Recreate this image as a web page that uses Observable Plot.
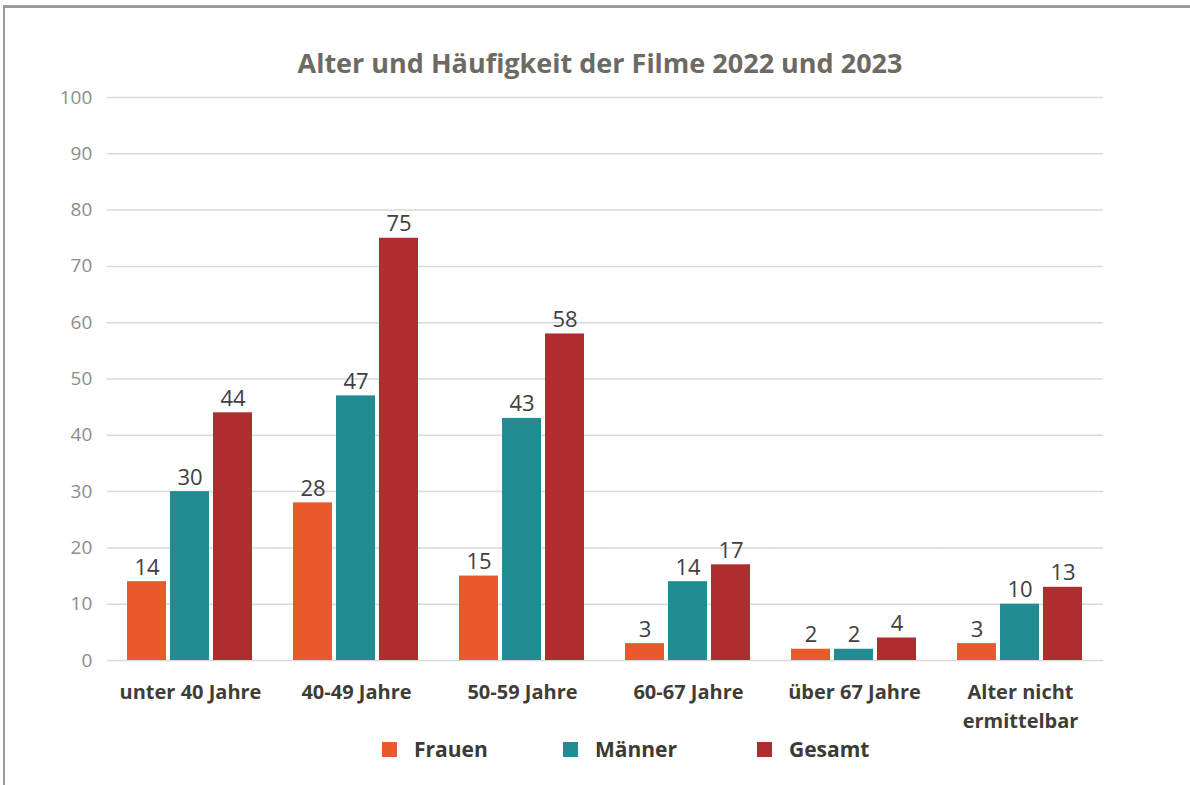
<!DOCTYPE html>
<html>
<head>
<meta charset="utf-8">
<script src="https://cdn.jsdelivr.net/npm/d3@7"></script>
<script src="https://cdn.jsdelivr.net/npm/@observablehq/plot@0.6"></script>
<style>
  html, body { margin: 0; padding: 0; background: #fff; }
  body { width: 1190px; height: 785px; position: relative; overflow: hidden; font-family: "Open Sans", sans-serif; }
  #frame { position: absolute; left: 3px; top: 5px; width: 1300px; height: 900px; border-top: 3px solid #9b9b96; border-left: 2px solid #9b9b96; }
  #title { position: absolute; left: 0; width: 1200px; top: 44px; text-align: center; font-size: 27px; font-weight: 700; color: #6c6a63; }
  #chart { position: absolute; left: 0; top: 80px; }
  #legend { position: absolute; top: 734px; left: 0; width: 1190px; height: 30px; }
  .item { position: absolute; top: 0; display: flex; align-items: center; height: 30px; font-size: 21px; font-weight: 700; color: #3b3a33; }
  .sw { width: 15px; height: 15px; margin-right: 17px; }
</style>
</head>
<body>
<div id="frame"></div>
<div id="title">Alter und Häufigkeit der Filme 2022 und 2023</div>
<div id="chart"></div>
<div id="legend"></div>
<script>
const categories = ["unter 40 Jahre", "40-49 Jahre", "50-59 Jahre", "60-67 Jahre", "über 67 Jahre", "Alter nicht ermittelbar"];
const categoryLabels = ["unter 40 Jahre", "40-49 Jahre", "50-59 Jahre", "60-67 Jahre", "über 67 Jahre", "Alter nicht\nermittelbar"];
const series = ["Frauen", "Männer", "Gesamt"];
const frauen = [14, 28, 15, 3, 2, 3];
const maenner = [30, 47, 43, 14, 2, 10];
const gesamt = [44, 75, 58, 17, 4, 13];
const yTicks = [0, 10, 20, 30, 40, 50, 60, 70, 80, 90, 100];
const colors = ["#E8592B", "#238C92", "#AE2E30"];

const values = [frauen, maenner, gesamt];
const data = [];
categories.forEach((c, i) => {
  series.forEach((s, j) => data.push({cat: c, series: s, value: values[j][i]}));
});
const labelOf = new Map(categories.map((c, i) => [c, categoryLabels[i]]));

const W = 1190, ML = 105, MR = 85;
const fxPadInner = 0.23, fxPadOuter = 0.115;
const step = (W - ML - MR) / (categories.length - fxPadInner + 2 * fxPadOuter);
const halfGap = step * fxPadInner / 2;

const chart = Plot.plot({
  width: W,
  height: 665,
  marginLeft: ML,
  marginRight: MR,
  marginTop: 17,
  marginBottom: 85,
  style: {fontFamily: "Open Sans, sans-serif", background: "transparent"},
  fx: {domain: categories, paddingInner: fxPadInner, paddingOuter: fxPadOuter, label: null},
  x: {domain: series, paddingInner: 0.09, paddingOuter: 0, axis: null},
  y: {domain: [0, 100], axis: null},
  color: {domain: series, range: colors},
  marks: [
    Plot.ruleY(yTicks, {y: d => d, stroke: "#d9d9d9", strokeWidth: 1.5, insetLeft: -halfGap, insetRight: -halfGap}),
    Plot.axisY({ticks: yTicks, tickSize: 0, tickPadding: 15 + halfGap, fontSize: 19, color: "#8c8c8c", label: null}),
    Plot.axisFx({anchor: "bottom", tickSize: 0, tickPadding: 18, fontSize: 20, fontWeight: 700, color: "#3f3d36", lineHeight: 1.45, label: null, tickFormat: d => labelOf.get(d)}),
    Plot.barY(data, {fx: "cat", x: "series", y: "value", fill: "series"}),
    Plot.text(data, {fx: "cat", x: "series", y: "value", text: d => String(d.value), lineAnchor: "bottom", dy: -7, fontSize: 22, fill: "#404040"})
  ]
});
document.getElementById("chart").appendChild(chart);

const legend = document.getElementById("legend");
const legendLeft = [382, 563, 757];
series.forEach((s, j) => {
  const it = document.createElement("div");
  it.className = "item";
  it.style.left = legendLeft[j] + "px";
  const sw = document.createElement("div");
  sw.className = "sw";
  sw.style.background = colors[j];
  const t = document.createElement("span");
  t.textContent = s;
  it.appendChild(sw);
  it.appendChild(t);
  legend.appendChild(it);
});
</script>
</body>
</html>
